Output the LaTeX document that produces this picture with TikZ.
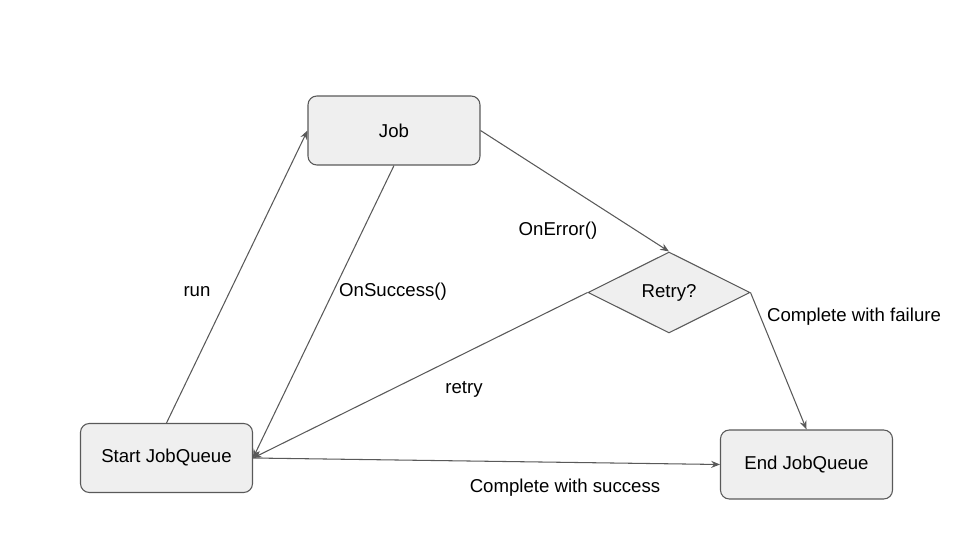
\documentclass[tikz,border=0pt]{standalone}
\usepackage{fontspec}
\setmainfont{Liberation Sans}
\usetikzlibrary{arrows.meta,shapes.geometric}
\definecolor{jqInk}{HTML}{595959}
\definecolor{jqFill}{HTML}{EFEFEF}
\tikzset{
  box/.style={draw=jqInk, fill=jqFill, rounded corners=5pt, minimum width=3.44cm, minimum height=1.38cm, font=\fontsize{10.6}{12.5}\selectfont, line width=0.6pt},
  dec/.style={draw=jqInk, fill=jqFill, diamond, aspect=2, inner sep=0pt, minimum width=3.24cm, minimum height=1.62cm, font=\fontsize{10.6}{12.5}\selectfont, line width=0.6pt},
  lbl/.style={font=\fontsize{10.6}{12.5}\selectfont, inner sep=1pt},
  arr/.style={-{Stealth[length=5pt,width=4pt]}, draw=jqInk, line width=0.6pt},
}
\begin{document}
\begin{tikzpicture}[x=0.02cm, y=-0.02cm]
        \useasboundingbox (0,0) rectangle (960,540);
        \node[box] (job) at (394,130.5) {Job};
        \node[dec] (retry) at (669,292.5) {Retry?};
        \node[box] (start) at (166.5,458) {Start JobQueue};
        \node[box] (end) at (806.5,464.5) {End JobQueue};
        % labels
        \node[lbl] (lrun) at (197,292) {run};
        \node[lbl] (lsucc) at (393,292) {OnSuccess()};
        \node[lbl] (lerr) at (558,231) {OnError()};
        \node[lbl] (lretry) at (464,389) {retry};
        \node[lbl] (lfail) at (854,317) {Complete with failure};
        \node[lbl] (ldone) at (565,488) {Complete with success};
        % connectors
        \draw[arr] (start.north) -- (job.west);
        \draw[arr] (job.south) -- (start.east);
        \draw[arr] (job.east) -- (retry.north);
        \draw[arr] (retry.west) -- (start.east);
        \draw[arr] (retry.east) -- (end.north);
        \draw[arr] (start.east) -- (end.west);
    \end{tikzpicture}
\end{document}
